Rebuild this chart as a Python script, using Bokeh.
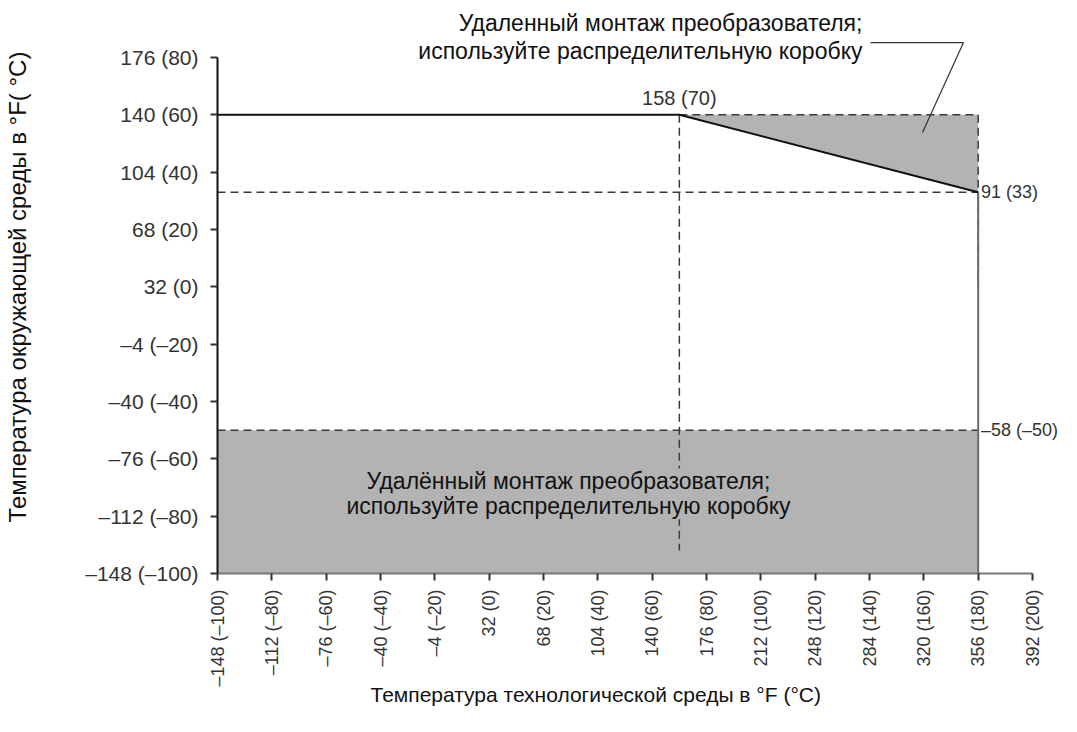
import math
from bokeh.plotting import figure
from bokeh.models import FixedTicker, Label, Range1d, Title
from bokeh.embed import file_html
from bokeh.resources import INLINE

# ---- data (°C) ----
x_ticks_c = [-100, -80, -60, -40, -20, 0, 20, 40, 60, 80, 100, 120, 140, 160, 180, 200]
x_ticks_f = ["–148", "–112", "–76", "–40", "–4", "32", "68", "104", "140", "176",
             "212", "248", "284", "320", "356", "392"]
x_ticks_cl = ["–100", "–80", "–60", "–40", "–20", "0", "20", "40", "60", "80",
              "100", "120", "140", "160", "180", "200"]
y_ticks_c = [-100, -80, -60, -40, -20, 0, 20, 40, 60, 80]
y_ticks_f = ["–148", "–112", "–76", "–40", "–4", "32", "68", "104", "140", "176"]
y_ticks_cl = ["–100", "–80", "–60", "–40", "–20", "0", "20", "40", "60", "80"]

process_x = [-100, 70, 180]        # process temperature breakpoints
ambient_max = [60, 60, 33]         # max ambient at those process temps
ambient_min = -50                  # min ambient
process_min, process_max = -100, 180
ambient_floor = -100

knee_label = "158 (70)"
end_label = "91 (33)"
min_label = "–58 (–50)"
note_lines = ["Удаленный монтаж преобразователя;", "используйте распределительную коробку"]
note2_lines = ["Удалённый монтаж преобразователя;", "используйте распределительную коробку"]
x_title = "Температура технологической среды в °F (°C)"
y_title = "Температура окружающей среды в °F( °C)"

FONT = "Liberation Sans"
GRAY = "#b3b3b3"
DASH = "#3a3a3a"

p = figure(width=1060, height=715, output_backend="svg", toolbar_location=None,
           x_range=Range1d(-100, 210.3), y_range=Range1d(-100, 99.88),
           min_border_left=217, min_border_right=0, min_border_top=0, min_border_bottom=142)
p.outline_line_color = None
p.grid.visible = False
p.background_fill_color = "white"

# shaded regions
p.quad(left=[process_min], right=[process_max], bottom=[ambient_floor], top=[ambient_min],
       fill_color=GRAY, line_color=None)
p.patch([process_x[1], process_x[2], process_x[2]],
        [ambient_max[0], ambient_max[0], ambient_max[2]],
        fill_color=GRAY, line_color=None)

# dashed reference lines
dash_kw = dict(line_color=DASH, line_width=1.5, line_dash="8 5")
p.line([process_min, process_max], [ambient_min, ambient_min], **dash_kw)
p.line([process_min, process_max], [ambient_max[2], ambient_max[2]], **dash_kw)
p.line([process_x[1], process_max], [ambient_max[0], ambient_max[0]], **dash_kw)
p.line([process_x[1], process_x[1]], [ambient_max[0], ambient_floor + 8], **dash_kw)
p.line([process_max, process_max], [ambient_max[0], 0], **dash_kw)
# solid right boundary
p.line([process_max, process_max], [ambient_max[2], ambient_floor], line_color="#6a6a6a",
       line_width=2)
# main limit line
p.line(process_x, ambient_max, line_color="#111111", line_width=2)

# leader line to the upper region
p.line([140.4, 174.6, 159.5], [85.2, 85.2, 53.8], line_color="#333333", line_width=1.2)

# axes
for ax in (p.xaxis[0], p.yaxis[0]):
    ax.major_tick_out = 7
    ax.major_tick_in = 0
    ax.minor_tick_out = 0
    ax.minor_tick_in = 0
    ax.major_tick_line_color = "#333333"
    ax.major_tick_line_width = 2
    ax.major_label_text_font = FONT
    ax.major_label_text_color = "#333333"

p.xaxis.major_label_standoff = 9
p.yaxis.major_label_standoff = 12
p.xaxis.major_label_text_font_size = "18px"
p.yaxis.major_label_text_font_size = "21px"
p.xaxis.bounds = (-100, 200)
p.yaxis.bounds = (-100, 80)
p.xaxis.ticker = FixedTicker(ticks=x_ticks_c)
p.yaxis.ticker = FixedTicker(ticks=y_ticks_c)
p.xaxis.major_label_overrides = {c: f"{f} ({cl})" for c, f, cl in zip(x_ticks_c, x_ticks_f, x_ticks_cl)}
p.yaxis.major_label_overrides = {c: f"{f} ({cl})" for c, f, cl in zip(y_ticks_c, y_ticks_f, y_ticks_cl)}
p.xaxis.major_label_orientation = math.pi / 2
p.xaxis.axis_line_color = "#777777"
p.xaxis.axis_line_width = 2
p.yaxis.axis_line_color = "#111111"
p.yaxis.axis_line_width = 2

# y axis title
p.yaxis.axis_label = y_title
p.yaxis.axis_label_text_font = FONT
p.yaxis.axis_label_text_font_size = "24px"
p.yaxis.axis_label_text_font_style = "normal"
p.yaxis.axis_label_text_color = "#111111"
p.yaxis.axis_label_standoff = 51

# x axis title (side title so it can be offset like the reference)
p.add_layout(Title(text=x_title, align="left", offset=153, standoff=-17,
                   text_font=FONT, text_font_size="21px", text_font_style="normal",
                   text_color="#111111"), "below")


def lab(x, y, text, size, align="center", color="#333333", bg=None):
    p.add_layout(Label(x=x, y=y, text=text, text_font=FONT, text_font_size=size,
                       text_align=align, text_baseline="middle", text_color=color,
                       background_fill_color=bg))


lab(process_x[1], 66.0, knee_label, "20px")
lab(181.0, ambient_max[2], end_label, "18px", align="left")
lab(181.0, ambient_min, min_label, "18px", align="left")

lab(137.4, 91.9, note_lines[0], "23px", align="right", color="#111111")
lab(137.4, 82.2, note_lines[1], "23px", align="right", color="#111111")
lab(29.2, -67.9, note2_lines[0], "23px", color="#111111", bg=GRAY)
lab(29.2, -76.5, note2_lines[1], "23px", color="#111111", bg=GRAY)

open("out.html", "w").write(file_html(p, INLINE))
